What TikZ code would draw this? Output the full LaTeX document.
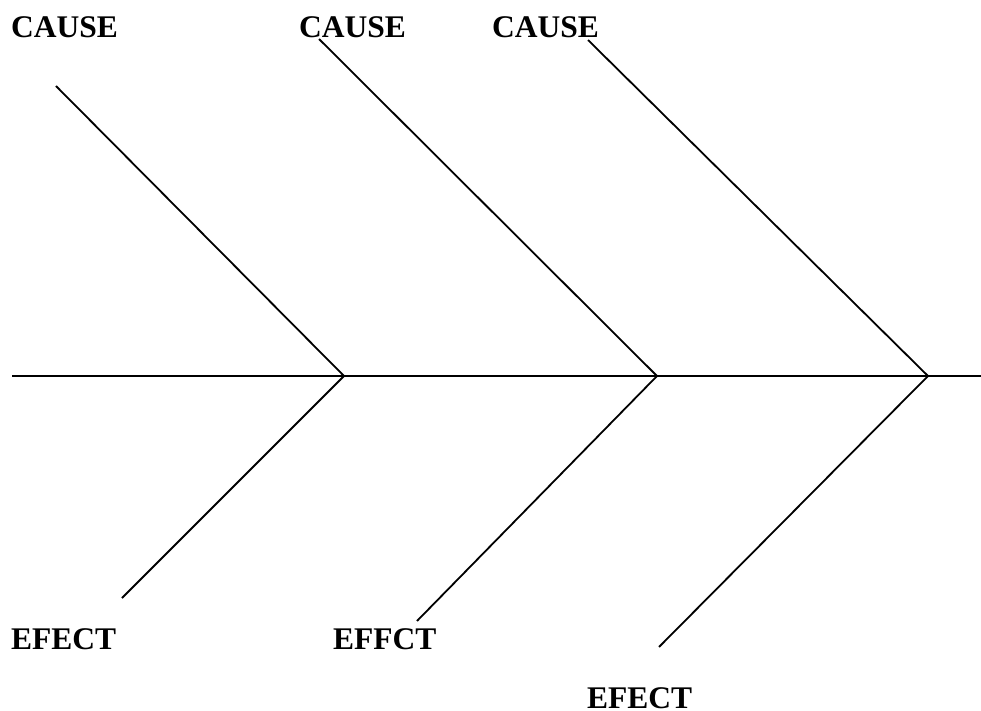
\documentclass[tikz,border=0pt]{standalone}
\usepackage{fontspec}
\setmainfont{Liberation Serif}
\begin{document}
\begin{tikzpicture}[x=1pt,y=-1pt,
  bone/.style={line width=1.8pt,black},
  lbl/.style={inner sep=0pt,anchor=base west,font=\fontsize{31.5}{31.5}\selectfont\bfseries}]
\useasboundingbox (0,0) rectangle (981,711);
% spine
\coordinate (s0) at (12,376);
\coordinate (s1) at (981,376);
\coordinate (j1) at (344,376);
\coordinate (j2) at (657,376);
\coordinate (j3) at (928,376);
% bone ends
\coordinate (u1) at (56,86);
\coordinate (u2) at (319,39);
\coordinate (u3) at (588,40);
\coordinate (d1) at (122,598);
\coordinate (d2) at (417,621);
\coordinate (d3) at (659,647);
\draw[bone] (s0) -- (s1);
\draw[bone] (u1) -- (j1) -- (d1);
\draw[bone] (u2) -- (j2) -- (d2);
\draw[bone] (u3) -- (j3) -- (d3);
% labels
\node[lbl] (c1) at (11,38) {CAUSE};
\node[lbl] (c2) at (299,38) {CAUSE};
\node[lbl] (c3) at (492,38) {CAUSE};
\node[lbl] (e1) at (11,649) {EFECT};
\node[lbl] (e2) at (333,649) {EFFCT};
\node[lbl] (e3) at (587,708.5) {EFECT};
\end{tikzpicture}
\end{document}
